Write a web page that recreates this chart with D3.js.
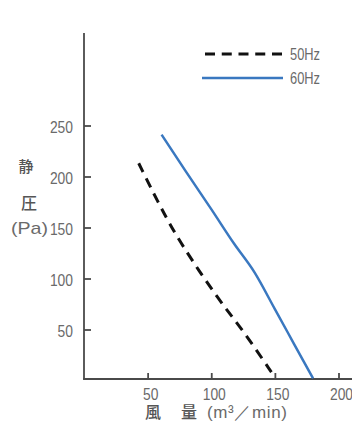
<!DOCTYPE html>
<html>
<head>
<meta charset="utf-8">
<script src="https://cdn.jsdelivr.net/npm/d3@7"></script>
<style>
  html, body { margin: 0; padding: 0; background: #ffffff; }
  svg { display: block; }
  .num { font-family: "Liberation Sans", Arial, sans-serif; font-size: 17px; fill: #6a6a6a; }
  .cjk { font-family: "Noto Sans CJK JP", "Noto Sans CJK SC", sans-serif; fill: #555; font-weight: 500; }
</style>
</head>
<body>
<svg id="chart" width="352" height="423"></svg>
<script>
// Static pressure vs. air volume, 50Hz and 60Hz operation
const flow50 = [43, 60, 76, 107, 124, 149];
const pres50 = [213, 170, 134, 77, 51, 5];
const flow60 = [61, 80, 100, 118, 134, 150, 165, 180];
const pres60 = [241, 205, 168, 134, 106, 70, 36, 2];

const xTicks = [50, 100, 150, 200];
const yTicks = [50, 100, 150, 200, 250];
const seriesNames = ["50Hz", "60Hz"];

const svg = d3.select("#chart");
const W = 352;

const x = d3.scaleLinear().domain([0, 200]).range([84, 338.5]);
const y = d3.scaleLinear().domain([0, 250]).range([380.5, 125.5]);

const axisColor = "#4a4a4a";
const digitW = 7.7; // narrow numeral advance

// Axis lines
svg.append("line")
  .attr("x1", x(0)).attr("x2", x(0))
  .attr("y1", 33).attr("y2", 379.5)
  .attr("stroke", axisColor).attr("stroke-width", 1.8);
svg.append("line")
  .attr("x1", x(0) - 0.9).attr("x2", W)
  .attr("y1", 379).attr("y2", 379)
  .attr("stroke", axisColor).attr("stroke-width", 1.8);

function styleTickText(sel) {
  sel.attr("class", "num")
    .attr("font-size", null).attr("font-family", null).attr("fill", null)
    .attr("lengthAdjust", "spacingAndGlyphs")
    .attr("textLength", function () { return this.textContent.length * digitW; });
}

// Y axis ticks (pointing inward) and labels
const yAxis = d3.axisLeft(y).tickValues(yTicks).tickSize(-7).tickPadding(11).tickSizeOuter(0);
const gy = svg.append("g").attr("transform", `translate(${x(0)},0)`).call(yAxis);
gy.select(".domain").remove();
gy.selectAll(".tick line").attr("stroke", axisColor).attr("stroke-width", 1.8);
gy.selectAll(".tick text").call(styleTickText).attr("dy", "0.42em");

// X axis ticks (pointing up) and labels
const xAxis = d3.axisBottom(x).tickValues(xTicks).tickSize(-6).tickPadding(9).tickSizeOuter(0);
const gx = svg.append("g").attr("transform", "translate(0,379)").call(xAxis);
gx.select(".domain").remove();
gx.selectAll(".tick line").attr("stroke", axisColor).attr("stroke-width", 1.8);
gx.selectAll(".tick text").call(styleTickText).attr("dx", 2.5).attr("dy", "0.7em");

// Y axis title
svg.append("text").attr("class", "cjk").attr("x", 26).attr("y", 167).attr("dy", "0.36em")
  .attr("text-anchor", "middle").attr("font-size", 15).text("静");
svg.append("text").attr("class", "cjk").attr("x", 29).attr("y", 203).attr("dy", "0.36em")
  .attr("text-anchor", "middle").attr("font-size", 16).text("圧");
svg.append("text").attr("class", "num").attr("x", 11).attr("y", 228).attr("dy", "0.36em")
  .attr("textLength", 37).attr("lengthAdjust", "spacingAndGlyphs").text("(Pa)");

// X axis title
svg.append("text").attr("class", "cjk").attr("x", 153).attr("y", 412).attr("dy", "0.36em")
  .attr("text-anchor", "middle").attr("font-size", 16).text("風");
svg.append("text").attr("class", "cjk").attr("x", 189).attr("y", 412).attr("dy", "0.36em")
  .attr("text-anchor", "middle").attr("font-size", 16).text("量");
svg.append("text").attr("class", "num").attr("x", 207).attr("y", 412).attr("dy", "0.36em")
  .attr("textLength", 80).attr("lengthAdjust", "spacing").text("(m³／min)");

// Curves
const line50 = d3.line().x(d => x(d[0])).y(d => y(d[1])).curve(d3.curveBasis);
const line60 = d3.line().x(d => x(d[0])).y(d => y(d[1])).curve(d3.curveMonotoneX);
const data50 = flow50.map((f, i) => [f, pres50[i]]);
const data60 = flow60.map((f, i) => [f, pres60[i]]);

const styles = [
  { stroke: "#111111", width: 3, dash: "10,7" },
  { stroke: "#3a78c0", width: 2.5, dash: null }
];

svg.append("path").datum(data50)
  .attr("d", line50).attr("fill", "none")
  .attr("stroke", styles[0].stroke).attr("stroke-width", styles[0].width)
  .attr("stroke-dasharray", styles[0].dash);
svg.append("path").datum(data60)
  .attr("d", line60).attr("fill", "none")
  .attr("stroke", styles[1].stroke).attr("stroke-width", styles[1].width);

// Legend
const legendY = [54, 78];
seriesNames.forEach((name, i) => {
  svg.append("line")
    .attr("x1", i === 0 ? 205 : 202).attr("x2", i === 0 ? 282 : 283)
    .attr("y1", legendY[i]).attr("y2", legendY[i])
    .attr("stroke", styles[i].stroke).attr("stroke-width", styles[i].width)
    .attr("stroke-dasharray", i === 0 ? "10,6.75" : null);
  svg.append("text").attr("class", "num").attr("x", 290).attr("y", legendY[i])
    .attr("dy", "0.36em").attr("textLength", 30).attr("lengthAdjust", "spacingAndGlyphs")
    .text(name);
});
</script>
</body>
</html>
